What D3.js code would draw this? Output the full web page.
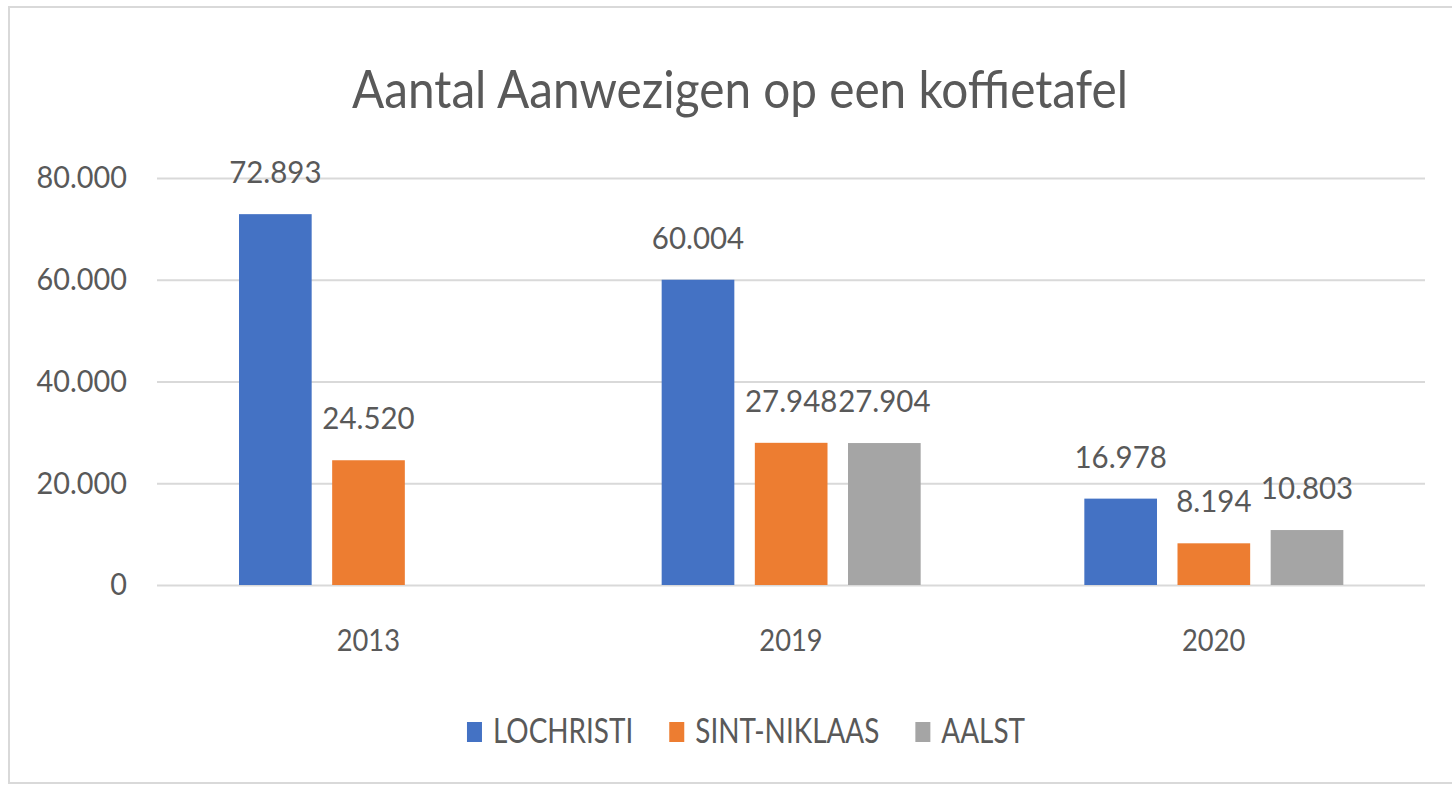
<!DOCTYPE html>
<html>
<head>
<meta charset="utf-8">
<script src="https://cdn.jsdelivr.net/npm/d3@7"></script>
<style>
	body { margin: 0; background: #fff; }
	text { font-family: Lato, 'Open Sans', sans-serif; fill: #595959; }
</style>
</head>
<body>
<div id="chart"></div>
<script>
const years = ['2013', '2019', '2020'];
const seriesNames = ['LOCHRISTI', 'SINT-NIKLAAS', 'AALST'];
const lochristi = [72893, 60004, 16978];
const sintNiklaas = [24520, 27948, 8194];
const aalst = [null, 27904, 10803];
const yTicks = [0, 20000, 40000, 60000, 80000];
const colors = ['#4472C4', '#ED7D31', '#A5A5A5'];

const width = 1452;
const height = 794;

const nl = d3.formatLocale({ decimal: ',', thousands: '.', grouping: [3], currency: ['€', ''] });
const fmt = nl.format(',d');

// the original font is narrower than Lato, squash the glyphs a bit
function squeeze(sel, k) {
	sel.each(function () {
		const w = this.getComputedTextLength();
		d3.select(this).attr('textLength', w * k).attr('lengthAdjust', 'spacingAndGlyphs');
	});
}

const svg = d3.select('#chart').append('svg').attr('width', width).attr('height', height);

svg
	.append('rect')
	.attr('x', 9)
	.attr('y', 7)
	.attr('width', 1500)
	.attr('height', 776)
	.attr('fill', '#fff')
	.attr('stroke', '#d9d9d9')
	.attr('stroke-width', 2);

svg
	.append('text')
	.attr('x', 740)
	.attr('y', 108)
	.attr('text-anchor', 'middle')
	.style('font-size', '53px')
	.text('Aantal Aanwezigen op een koffietafel')
	.call(squeeze, 0.9);

const x0 = d3.scaleBand().domain(years).range([157, 1425]);
const x1 = d3.scaleBand().domain(seriesNames).range([82, 341]).paddingInner(0.22);
const y = d3.scaleLinear().domain([0, 80000]).range([585, 178]);

// gridlines + tick labels
const yAxis = d3.axisLeft(y).tickValues(yTicks).tickSize(-(1425 - 157)).tickPadding(30).tickFormat(fmt);
const gy = svg.append('g').attr('transform', 'translate(157,0)').call(yAxis);
gy.select('.domain').remove();
gy.selectAll('.tick line').attr('stroke', '#d9d9d9').attr('stroke-width', 2);
gy.selectAll('.tick text')
	.attr('fill', '#595959')
	.style('font-size', '31px')
	.style('font-family', 'Lato, sans-serif')
	.call(squeeze, 0.93);

// x axis labels
const xAxis = d3.axisBottom(x0).tickSize(0).tickPadding(44);
const gx = svg.append('g').attr('transform', 'translate(0,585)').call(xAxis);
gx.select('.domain').remove();
gx.selectAll('.tick text')
	.attr('fill', '#595959')
	.style('font-size', '31px')
	.style('font-family', 'Lato, sans-serif')
	.call(squeeze, 0.88);

const allSeries = [lochristi, sintNiklaas, aalst];
const rows = [];
seriesNames.forEach((name, s) => {
	years.forEach((yr, i) => {
		if (allSeries[s][i] != null) rows.push({ year: yr, series: name, value: allSeries[s][i], color: colors[s] });
	});
});

svg
	.append('g')
	.selectAll('rect')
	.data(rows)
	.enter()
	.append('rect')
	.attr('x', (d) => x0(d.year) + x1(d.series))
	.attr('y', (d) => y(d.value))
	.attr('width', x1.bandwidth())
	.attr('height', (d) => y(0) - y(d.value))
	.attr('fill', (d) => d.color);

svg
	.append('g')
	.selectAll('text')
	.data(rows)
	.enter()
	.append('text')
	.attr('x', (d) => x0(d.year) + x1(d.series) + x1.bandwidth() / 2)
	.attr('y', (d) => y(d.value) - 31)
	.attr('text-anchor', 'middle')
	.style('font-size', '31px')
	.text((d) => fmt(d.value))
	.call(squeeze, 0.95);

// legend
const legend = svg.append('g').attr('transform', 'translate(0,743)');
let lx = 0;
seriesNames.forEach((name, i) => {
	const g = legend.append('g');
	g.append('rect').attr('x', 0).attr('y', -21).attr('width', 15).attr('height', 20).attr('fill', colors[i]);
	const t = g.append('text').attr('x', 26).attr('y', 0).style('font-size', '34px').text(name).call(squeeze, 0.82);
	const w = 26 + +t.attr('textLength');
	g.attr('transform', `translate(${lx},0)`);
	lx += w + 36;
});
const legendWidth = lx - 36;
legend.attr('transform', `translate(${746 - legendWidth / 2},743)`);
</script>
</body>
</html>
